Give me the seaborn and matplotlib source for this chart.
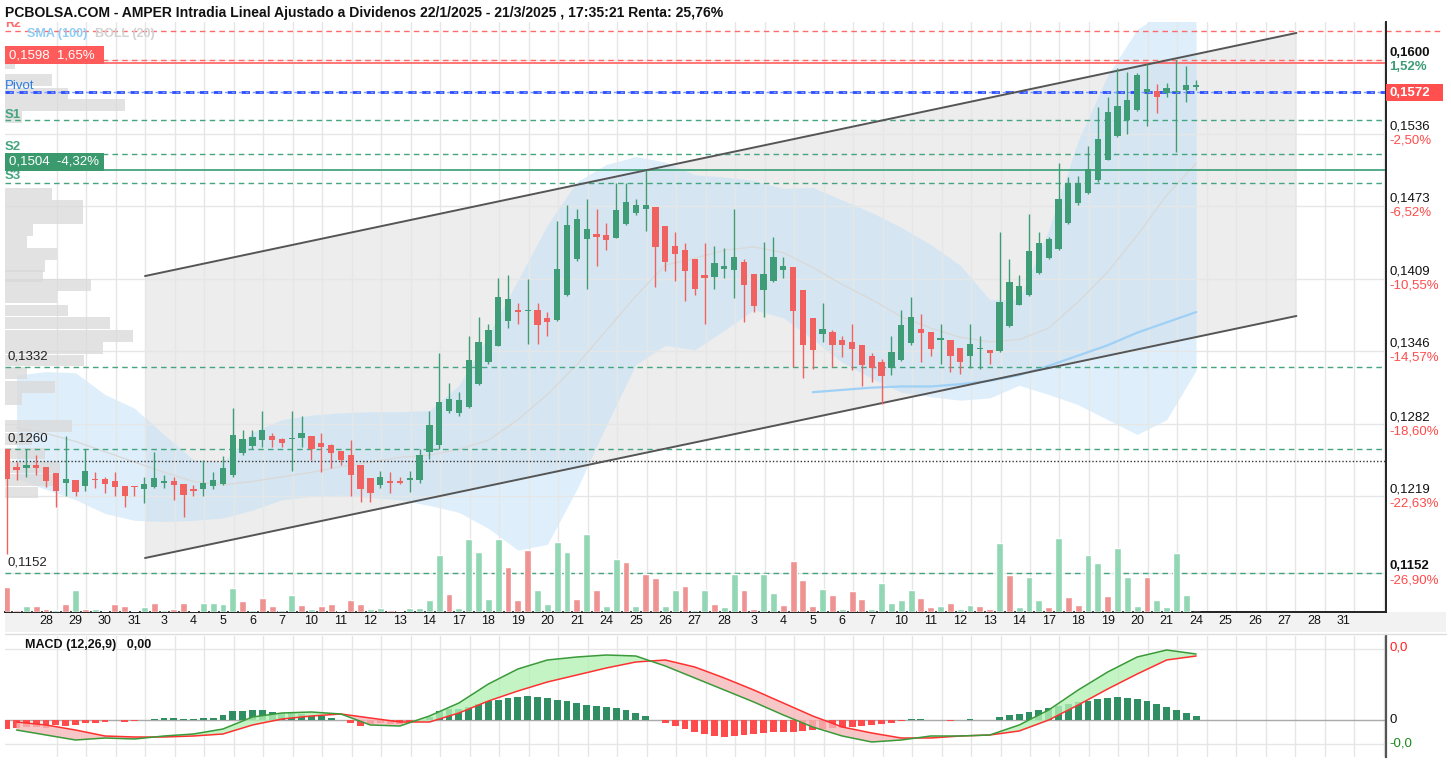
import matplotlib
matplotlib.use("Agg")
import numpy as np
import pandas as pd
import matplotlib.pyplot as plt
import matplotlib.transforms as mtransforms
from matplotlib.patches import Rectangle
import seaborn as sns

# ================= datos (AMPER, barras intradía) =================
opens = [0.1260, 0.1245, 0.1244, 0.1246, 0.1245, 0.1239, 0.1231, 0.1233, 0.1228, 0.1234,
         0.1234, 0.1232, 0.1228, 0.1228, 0.1225, 0.1227, 0.1231, 0.1232, 0.1230, 0.1225,
         0.1225, 0.1228, 0.1230, 0.1238, 0.1257, 0.1263, 0.1268, 0.1272, 0.1269, 0.1269,
         0.1270, 0.1272, 0.1266, 0.1264, 0.1259, 0.1255, 0.1246, 0.1235, 0.1229, 0.1232,
         0.1232, 0.1233, 0.1233, 0.1258, 0.1264, 0.1294, 0.1292, 0.1297, 0.1317, 0.1336,
         0.1350, 0.1372, 0.1382, 0.1381, 0.1382, 0.1375, 0.1373, 0.1395, 0.1426, 0.1444,
         0.1448, 0.1447, 0.1445, 0.1457, 0.1467, 0.1470, 0.1472, 0.1455, 0.1438, 0.1434,
         0.1426, 0.1412, 0.1411, 0.1418, 0.1417, 0.1424, 0.1413, 0.1399, 0.1407, 0.1417,
         0.1419, 0.1399, 0.1375, 0.1361, 0.1363, 0.1356, 0.1354, 0.1351, 0.1342, 0.1336,
         0.1331, 0.1338, 0.1353, 0.1365, 0.1363, 0.1356, 0.1356, 0.1349, 0.1342, 0.1348,
         0.1347, 0.1346, 0.1368, 0.1386, 0.1395, 0.1414, 0.1427, 0.1435, 0.1458, 0.1475,
         0.1484, 0.1495, 0.1513, 0.1534, 0.1548, 0.1557, 0.1572, 0.1573, 0.1571, 0.1572,
         0.1574, 0.1577]
highs = [0.1260, 0.1249, 0.1260, 0.1255, 0.1245, 0.1239, 0.1272, 0.1233, 0.1260, 0.1240,
         0.1236, 0.1240, 0.1228, 0.1228, 0.1236, 0.1258, 0.1238, 0.1236, 0.1230, 0.1229,
         0.1251, 0.1240, 0.1254, 0.1296, 0.1277, 0.1277, 0.1294, 0.1274, 0.1270, 0.1294,
         0.1289, 0.1272, 0.1274, 0.1265, 0.1259, 0.1268, 0.1246, 0.1235, 0.1241, 0.1240,
         0.1236, 0.1241, 0.1260, 0.1294, 0.1344, 0.1318, 0.1310, 0.1359, 0.1376, 0.1370,
         0.1410, 0.1412, 0.1388, 0.1409, 0.1388, 0.1380, 0.1460, 0.1474, 0.1470, 0.1479,
         0.1470, 0.1458, 0.1493, 0.1493, 0.1479, 0.1504, 0.1472, 0.1455, 0.1450, 0.1440,
         0.1426, 0.1440, 0.1438, 0.1436, 0.1470, 0.1426, 0.1413, 0.1441, 0.1446, 0.1428,
         0.1419, 0.1399, 0.1375, 0.1388, 0.1364, 0.1359, 0.1370, 0.1351, 0.1344, 0.1339,
         0.1359, 0.1382, 0.1393, 0.1378, 0.1363, 0.1370, 0.1356, 0.1349, 0.1370, 0.1359,
         0.1347, 0.1450, 0.1426, 0.1412, 0.1466, 0.1450, 0.1446, 0.1510, 0.1498, 0.1499,
         0.1525, 0.1559, 0.1568, 0.1593, 0.1590, 0.1589, 0.1597, 0.1579, 0.1580, 0.1600,
         0.1595, 0.1583]
lows = [0.1169, 0.1233, 0.1236, 0.1238, 0.1227, 0.1210, 0.1219, 0.1219, 0.1224, 0.1226,
        0.1222, 0.1219, 0.1210, 0.1219, 0.1213, 0.1226, 0.1226, 0.1216, 0.1201, 0.1219,
        0.1219, 0.1225, 0.1229, 0.1236, 0.1255, 0.1260, 0.1262, 0.1262, 0.1262, 0.1241,
        0.1262, 0.1251, 0.1240, 0.1244, 0.1246, 0.1219, 0.1214, 0.1214, 0.1226, 0.1222,
        0.1230, 0.1223, 0.1231, 0.1252, 0.1260, 0.1292, 0.1289, 0.1296, 0.1316, 0.1335,
        0.1350, 0.1366, 0.1370, 0.1352, 0.1352, 0.1359, 0.1372, 0.1394, 0.1425, 0.1400,
        0.1420, 0.1434, 0.1445, 0.1456, 0.1465, 0.1451, 0.1402, 0.1416, 0.1407, 0.1390,
        0.1395, 0.1370, 0.1400, 0.1410, 0.1392, 0.1371, 0.1380, 0.1376, 0.1406, 0.1410,
        0.1332, 0.1322, 0.1330, 0.1354, 0.1332, 0.1341, 0.1329, 0.1315, 0.1319, 0.1300,
        0.1325, 0.1337, 0.1351, 0.1336, 0.1342, 0.1335, 0.1328, 0.1326, 0.1331, 0.1330,
        0.1335, 0.1345, 0.1367, 0.1386, 0.1394, 0.1413, 0.1426, 0.1434, 0.1457, 0.1474,
        0.1483, 0.1494, 0.1513, 0.1533, 0.1536, 0.1556, 0.1543, 0.1554, 0.1568, 0.1520,
        0.1564, 0.1574]
closes = [0.1234, 0.1242, 0.1246, 0.1244, 0.1232, 0.1224, 0.1234, 0.1223, 0.1241, 0.1233,
          0.1230, 0.1227, 0.1219, 0.1227, 0.1230, 0.1235, 0.1232, 0.1229, 0.1220, 0.1224,
          0.1231, 0.1233, 0.1244, 0.1273, 0.1269, 0.1271, 0.1277, 0.1268, 0.1266, 0.1270,
          0.1274, 0.1260, 0.1262, 0.1257, 0.1251, 0.1238, 0.1225, 0.1222, 0.1236, 0.1231,
          0.1231, 0.1235, 0.1255, 0.1281, 0.1301, 0.1304, 0.1303, 0.1338, 0.1354, 0.1364,
          0.1393, 0.1391, 0.1380, 0.1382, 0.1369, 0.1371, 0.1418, 0.1456, 0.1461, 0.1453,
          0.1446, 0.1443, 0.1469, 0.1476, 0.1474, 0.1474, 0.1437, 0.1424, 0.1431, 0.1416,
          0.1400, 0.1410, 0.1423, 0.1420, 0.1428, 0.1404, 0.1385, 0.1413, 0.1428, 0.1420,
          0.1381, 0.1351, 0.1347, 0.1365, 0.1351, 0.1351, 0.1348, 0.1334, 0.1331, 0.1324,
          0.1345, 0.1369, 0.1376, 0.1362, 0.1348, 0.1357, 0.1342, 0.1336, 0.1352, 0.1349,
          0.1344, 0.1389, 0.1406, 0.1403, 0.1433, 0.1440, 0.1444, 0.1479, 0.1493, 0.1493,
          0.1505, 0.1531, 0.1555, 0.1560, 0.1565, 0.1587, 0.1575, 0.1568, 0.1576, 0.1573,
          0.1578, 0.1578]
# volumen por barra (millones de títulos) y su color (1 = verde, 0 = rojo)
volumes = [2.50, 0.23, 0.60, 0.60, 0.33, 0.23, 0.83, 2.23, 0.33, 0.33,
           0.10, 0.83, 0.60, 0.10, 0.50, 0.93, 0.23, 0.33, 0.93, 0.10,
           0.93, 0.93, 0.83, 2.43, 1.07, 0.23, 1.43, 0.57, 0.23, 1.73,
           0.67, 0.33, 0.57, 0.83, 0.10, 1.17, 0.83, 0.33, 0.43, 0.23,
           0.10, 0.43, 0.43, 1.17, 5.70, 1.83, 0.43, 7.30, 6.00, 1.33,
           7.30, 4.50, 1.17, 6.20, 2.17, 0.77, 7.00, 6.00, 1.33, 7.80,
           2.17, 0.57, 5.30, 5.00, 0.57, 3.80, 3.40, 0.57, 2.17, 2.57,
           0.23, 2.17, 0.83, 0.50, 3.80, 2.17, 0.33, 3.80, 1.90, 0.67,
           5.10, 3.20, 0.57, 2.30, 1.70, 0.33, 2.10, 1.30, 0.33, 2.90,
           0.93, 1.17, 2.17, 1.43, 0.50, 0.57, 0.93, 0.33, 0.67, 0.57,
           0.33, 6.90, 3.70, 0.50, 3.50, 1.17, 0.50, 7.40, 1.50, 0.73,
           5.70, 4.90, 1.60, 6.40, 3.50, 0.57, 3.50, 1.17, 0.50, 5.90,
           1.73, 0.05]
volume_up = [0, 0, 1, 0, 0, 1, 0, 1, 0, 1,
             1, 0, 0, 0, 1, 0, 1, 0, 0, 0,
             1, 1, 1, 1, 0, 1, 0, 0, 1, 1,
             0, 1, 0, 0, 0, 0, 0, 1, 1, 0,
             1, 1, 1, 1, 1, 0, 1, 1, 1, 1,
             1, 0, 0, 0, 1, 1, 1, 1, 0, 1,
             0, 1, 1, 0, 1, 0, 0, 1, 1, 0,
             1, 1, 0, 1, 1, 0, 0, 1, 1, 0,
             0, 0, 0, 1, 0, 1, 0, 0, 1, 1,
             1, 1, 1, 0, 0, 1, 0, 1, 1, 0,
             0, 1, 0, 1, 1, 1, 0, 1, 0, 0,
             1, 1, 0, 1, 1, 1, 0, 1, 1, 1,
             1, 1]

day_labels = ["28", "29", "30", "31", "3", "4", "5", "6", "7", "10", "11", "12", "13", "14",
              "17", "18", "19", "20", "21", "24", "25", "26", "27", "28", "3", "4", "5", "6",
              "7", "10", "11", "12", "13", "14", "17", "18", "19", "20", "21", "24", "25",
              "26", "27", "28", "31"]

# Bollinger (20) y SMA (100), leídas cada 3 barras
bb_idx = list(range(1, 122, 3))
bb_upper = [0.1325, 0.1328, 0.1327, 0.1308, 0.1296, 0.1273, 0.1251, 0.1249, 0.1275, 0.1286,
            0.1290, 0.1292, 0.1293, 0.1293, 0.1294, 0.1316, 0.1360, 0.1408, 0.1456, 0.1494,
            0.1509, 0.1516, 0.1511, 0.1500, 0.1498, 0.1495, 0.1488, 0.1489, 0.1478, 0.1467,
            0.1454, 0.1439, 0.1421, 0.1391, 0.1391, 0.1452, 0.1530, 0.1587, 0.1627, 0.1644,
            0.1653]
bb_mid = [0.1279, 0.1274, 0.1267, 0.1258, 0.1249, 0.1240, 0.1232, 0.1229, 0.1232, 0.1236,
          0.1240, 0.1245, 0.1249, 0.1253, 0.1255, 0.1260, 0.1268, 0.1286, 0.1308, 0.1334,
          0.1364, 0.1394, 0.1421, 0.1427, 0.1434, 0.1437, 0.1432, 0.1419, 0.1404, 0.1391,
          0.1376, 0.1366, 0.1358, 0.1354, 0.1356, 0.1366, 0.1389, 0.1415, 0.1447, 0.1482,
          0.1510]
bb_lower = [0.1235, 0.1225, 0.1216, 0.1204, 0.1198, 0.1197, 0.1198, 0.1200, 0.1207, 0.1216,
            0.1219, 0.1220, 0.1218, 0.1216, 0.1211, 0.1205, 0.1191, 0.1172, 0.1177, 0.1225,
            0.1281, 0.1334, 0.1351, 0.1347, 0.1364, 0.1382, 0.1375, 0.1356, 0.1336, 0.1322,
            0.1310, 0.1306, 0.1303, 0.1305, 0.1316, 0.1308, 0.1299, 0.1286, 0.1273, 0.1286,
            0.1329]
sma_idx = list(range(82, 122, 3))
sma100 = [0.1310, 0.1312, 0.1314, 0.1315, 0.1315, 0.1317, 0.1320, 0.1325, 0.1333, 0.1342,
          0.1351, 0.1362, 0.1371, 0.1380]

# canal de regresión (extremos)
channel_idx = [14.07, 131.2]
channel_upper = [0.14115, 0.16239]
channel_lower = [0.11651, 0.13766]

# perfil de volumen por precio
profile_price = [0.15971, 0.15828, 0.15710, 0.15610, 0.15505, 0.14832, 0.14727, 0.14622,
                 0.14517, 0.14412, 0.14308, 0.14203, 0.14115, 0.14037, 0.13931, 0.13814,
                 0.13705, 0.13591, 0.13486, 0.13377, 0.13268, 0.13145, 0.13040, 0.12805,
                 0.12691, 0.12564, 0.12442, 0.12333, 0.12224]
profile_vol = [10, 47, 63, 120, 17, 47, 78, 78, 28, 22, 52, 40, 38, 86, 52, 63, 105, 128,
               98, 79, 22, 50, 17, 67, 27, 40, 55, 50, 33]

# niveles
r2, r1, pivot, s1, s2, s3 = 0.1626, 0.1600, 0.1572, 0.1548, 0.1518, 0.1493
mark_high, mark_low = 0.1598, 0.1504
support_levels = [0.1332, 0.1260, 0.1152]
ref_close = 0.1250

price_ticks = [0.1600, 0.1536, 0.1473, 0.1409, 0.1346, 0.1282, 0.1219, 0.1152]
price_tick_labels = ["0,1600", "0,1536", "0,1473", "0,1409", "0,1346", "0,1282", "0,1219", "0,1152"]
pct_labels = ["1,52%", "-2,50%", "-6,52%", "-10,55%", "-14,57%", "-18,60%", "-22,63%", "-26,90%"]

# MACD (12,26,9) en unidades de 1e-4
macd_line = [-5, -7.5, -10, -9, -9.5, -8, -7, -4.5, 1.5, 3.5, 4, 3, -2.5, -3, 2, 8.5, 18,
             25.5, 30, 31.5, 32.5, 32, 27, 21, 15, 9, 2.5, -3.5, -8, -11, -10, -8, -8, -7.5,
             -2.5, 5, 15, 24, 31.5, 35, 33]
macd_signal = [-1, -2.5, -5, -8, -8.5, -8.5, -8, -7, -2.5, 0.5, 2, 3, 1, -1, -1, 3.5, 9.5,
               14.5, 19, 22.5, 26, 29, 30, 26.5, 21, 15, 8.5, 2, -3.5, -6.5, -9, -9, -8, -7.5,
               -5.5, 0, 7.5, 15.5, 23, 30, 32]
macd_hist = [-4.5, -4, -3.5, -3.5, -4, -2.5, -3, -2.5, -1.5, -1.5, -1, 0, -1, -0.5, 0, 0.5,
             1, 1, 0.5, 0.5, 1, 1, 2.5, 4.5, 4.5, 5, 5, 4, 3.5, 4, 3, 2, 2, 1, 0, -1.5, -3,
             -2, -1.5, -2, -2, -1, 0, 1.5, 4.5, 5.5, 5.5, 6.5, 8, 9.5, 10, 11, 11.5, 12, 11.5,
             11, 10, 9.5, 8.5, 7.5, 7, 6.5, 6, 5, 3.5, 2, 0, -1.5, -3, -4.5, -6, -7, -8, -8.5,
             -8, -7.5, -7, -6.5, -6, -6, -6, -5.5, -5, -4.5, -4, -4, -3.5, -3, -2.5, -2, -1.5,
             -0.5, 0.5, 0.5, 0, 0, -0.5, 0, 0.5, 0, 0, 1.5, 2.5, 3, 4, 5, 6, 7, 8, 9, 9.5,
             10.5, 11, 11.5, 11, 10.5, 9.5, 8, 6.5, 5, 3.5, 2]

# ================= estilo =================
W, H = 1451, 763
GREEN = "#3e9d76"
RED = "#f0625f"
LEVEL_GREEN = "#45a57f"
LEVEL_RED = "#ff6b6b"

sns.set_theme(style="white")
plt.rcParams['font.family'] = ['Liberation Sans', 'DejaVu Sans']


def box(x0, y0, x1, y1):
    return [x0 / W, 1 - y1 / H, (x1 - x0) / W, (y1 - y0) / H]


def px2x(px):
    return (px - 6.7) / 9.83


def py2p(py):
    return 0.16527 - 0.00008738 * py


n = len(closes)
idx = np.arange(n)
o = np.array(opens); c = np.array(closes); h = np.array(highs); l = np.array(lows)
up = c >= o
col = np.where(up, GREEN, RED)
df = pd.DataFrame({"idx": idx, "vol": volumes,
                   "dir": np.where(np.array(volume_up) == 1, "up", "down")})

fig = plt.figure(figsize=(W / 100, H / 100), dpi=100)
fig.patch.set_facecolor("white")

ax = fig.add_axes(box(5, 22, 1386, 612))
ax.set_facecolor("white")
XL = (px2x(5), px2x(1386))
YL = (py2p(612), py2p(22))

# rejilla
grid_x = np.arange(5.1, 141, 3)
for gx in grid_x:
    ax.axvline(gx, color="#e6e6e6", lw=1, zorder=1)
for pt in price_ticks:
    ax.axhline(pt, color="#e6e6e6", lw=1, zorder=1)

# canal
ax.fill_between(channel_idx, channel_lower, channel_upper, color="#ededed", lw=0, zorder=0.5)
sns.lineplot(x=channel_idx, y=channel_upper, color="#555555", lw=1.4, ax=ax, zorder=2.5)
sns.lineplot(x=channel_idx, y=channel_lower, color="#555555", lw=1.4, ax=ax, zorder=2.5)

# Bollinger
ax.fill_between(bb_idx, bb_lower, bb_upper, color="#bfe0f8", alpha=0.5, lw=0, zorder=0.8)
sns.lineplot(x=bb_idx, y=bb_mid, color="#d9d9d9", lw=1, ax=ax, zorder=1.2)
sns.lineplot(x=sma_idx, y=sma100, color="#9fd0f5", lw=1.6, ax=ax, zorder=1.3)

# perfil de volumen
ax.barh(profile_price, np.array(profile_vol) / 9.83, left=XL[0], height=0.00102,
        color="#d9d9d9", alpha=0.75, lw=0, zorder=1.5)

# niveles
ax.axhline(r2, xmax=1.04, color=LEVEL_RED, lw=1, ls=(0, (4, 3)), clip_on=False, zorder=2)
ax.axhline(r1, color=LEVEL_RED, lw=1, ls=(0, (4, 3)), zorder=2)
ax.axhline(mark_high, color=LEVEL_RED, lw=1.3, zorder=2)
ax.axhline(pivot, color="#2b4cff", lw=2, ls=(0, (3, 2)), zorder=2)
ax.axhline(pivot, color="#7d9bff", lw=1, ls=(2, (2, 3)), zorder=2)
for lv in [s1, s2, s3] + support_levels:
    ax.axhline(lv, color=LEVEL_GREEN, lw=1, ls=(0, (4, 3)), zorder=2)
ax.axhline(mark_low, color=LEVEL_GREEN, lw=1.3, zorder=2)
ax.axhline(ref_close, color="#333333", lw=1, ls=(0, (1, 1.5)), zorder=2)

# velas
ax.vlines(idx, l, h, colors=col, lw=1, zorder=3)
body = np.maximum(np.abs(c - o), 0.00006)
ax.bar(idx, body, bottom=np.minimum(o, c), width=0.64, color=col, lw=0, zorder=3.2)

ax.set_xlim(*XL)
ax.set_ylim(*YL)
ax.set_xticks([]); ax.set_yticks([])
ax.set_xlabel(""); ax.set_ylabel("")
for s in ["top", "left"]:
    ax.spines[s].set_visible(False)
ax.spines["right"].set_color("#222222"); ax.spines["right"].set_linewidth(1.4)
ax.spines["bottom"].set_color("#222222"); ax.spines["bottom"].set_linewidth(1.4)

# volumen
axv = ax.twinx()
sns.barplot(data=df, x="idx", y="vol", hue="dir", palette={"up": "#86e3b4", "down": "#ff8282"},
            native_scale=True, dodge=False, width=0.7, legend=False, errorbar=None, ax=axv,
            zorder=2)
axv.set_ylim(0, 59)
axv.set_xlim(*XL)
axv.set_yticks([]); axv.set_xticks([])
axv.set_xlabel(""); axv.set_ylabel("")
for s in axv.spines.values():
    s.set_visible(False)

# textos del panel principal
ax.text(px2x(5), py2p(24), "R2", color=LEVEL_RED, fontsize=9, fontweight="bold", va="center",
        clip_on=True, zorder=5)
ax.text(px2x(27), py2p(34), "SMA (100)", color="#8fcdf5", fontsize=9, fontweight="bold",
        va="center", zorder=5)
ax.text(px2x(95), py2p(34), "BOLL (20)", color="#d2d2d2", fontsize=9, fontweight="bold",
        va="center", zorder=5)
ax.text(px2x(5), py2p(86), "Pivot", color="#2c7be5", fontsize=9.5, va="center", zorder=5)
for name, ypx in [("S1", 115), ("S2", 147), ("S3", 176)]:
    ax.text(px2x(5), py2p(ypx), name, color=LEVEL_GREEN, fontsize=9.5, fontweight="bold",
            va="center", zorder=5)
for lv in support_levels:
    ax.text(px2x(7), lv + 0.0004, f"{lv:.4f}".replace(".", ","), color="#222222", fontsize=9.5,
            va="bottom", zorder=5)

fig.add_artist(Rectangle((5 / W, 1 - 64 / H), 99 / W, 18 / H, color="#ff5b5b", lw=0, zorder=5))
fig.text(9 / W, 1 - 55 / H, "0,1598  1,65%", color="white", fontsize=9.5, va="center", zorder=6)
fig.add_artist(Rectangle((5 / W, 1 - 171 / H), 99 / W, 18 / H, color="#3a9a6e", lw=0, zorder=5))
fig.text(9 / W, 1 - 162 / H, "0,1504  -4,32%", color="white", fontsize=9.5, va="center", zorder=6)

# eje de precios a la derecha
for pt, lab, pct in zip(price_ticks, price_tick_labels, pct_labels):
    ypx = (0.16527 - pt) / 0.00008738
    bold = "bold" if lab in ("0,1600", "0,1152") else "normal"
    fig.text(1389 / W, 1 - (ypx - 7) / H, lab, color="#111111", fontsize=9.5, va="center",
             fontweight=bold)
    fig.text(1389 / W, 1 - (ypx + 7) / H, pct, color=GREEN if pct[0] != "-" else "#ff4b4b",
             fontsize=9.5, va="center", fontweight="bold" if pct[0] != "-" else "normal")
fig.add_artist(Rectangle((1386 / W, 1 - 101 / H), 57 / W, 17 / H, color="#ff4f4f", lw=0, zorder=5))
fig.text(1390 / W, 1 - 92.5 / H, "0,1572", color="white", fontsize=9.5, fontweight="bold",
         va="center", zorder=6)

# franja de fechas
fig.add_artist(Rectangle((5 / W, 1 - 632 / H), 1441 / W, 20 / H, color="#f2f2f2", lw=0, zorder=0))
trans = mtransforms.blended_transform_factory(ax.transData, ax.transAxes)
for k, lab in enumerate(day_labels):
    ax.text(4 + 3 * k, (612 - 621) / 590, lab, transform=trans, ha="center", va="center",
            fontsize=9, color="#111111", clip_on=False)

# título
fig.text(5 / W, 1 - 13 / H,
         "PCBOLSA.COM - AMPER Intradia Lineal Ajustado a Dividenos 22/1/2025 - 21/3/2025 , "
         "17:35:21 Renta: 25,76%", fontsize=10.1, fontweight="bold", va="center", color="#111111")

# ================= MACD =================
axm = fig.add_axes(box(5, 636, 1386, 757))
axm.set_facecolor("white")
for gx in grid_x:
    axm.axvline(gx, color="#e6e6e6", lw=1, zorder=0.5)
for gy in [35.5, -12]:
    axm.axhline(gy, color="#e6e6e6", lw=1, zorder=0.5)
axm.axhline(0, color="#aaaaaa", lw=1, zorder=0.6)

hist = np.array(macd_hist)
axm.bar(idx, hist, width=0.7, color=np.where(hist >= 0, "#2f8f63", "#ff4b4b"), lw=0, zorder=1)
mx = np.array(bb_idx, dtype=float)
ml = np.array(macd_line, dtype=float)
ms = np.array(macd_signal, dtype=float)
axm.fill_between(mx, ml, ms, where=ml >= ms, interpolate=True, color="#b6f0b6", alpha=0.8,
                 lw=0, zorder=1.5)
axm.fill_between(mx, ml, ms, where=ml < ms, interpolate=True, color="#f6b9b9", alpha=0.8,
                 lw=0, zorder=1.5)
sns.lineplot(x=mx, y=ms, color="#ff3030", lw=1.1, ax=axm, zorder=2)
sns.lineplot(x=mx, y=ml, color="#3a9a3a", lw=1.1, ax=axm, zorder=2.1)
axm.set_xlim(*XL)
axm.set_ylim(-18.5, 42)
axm.set_xticks([]); axm.set_yticks([])
axm.set_xlabel(""); axm.set_ylabel("")
for s in ["top", "left", "bottom"]:
    axm.spines[s].set_visible(False)
axm.spines["right"].set_color("#555555"); axm.spines["right"].set_linewidth(1.6)

fig.text(25 / W, 1 - 645 / H, "MACD (12,26,9)   0,00", fontsize=9, fontweight="bold",
         va="center", color="#111111")
fig.text(1389 / W, 1 - 648 / H, "0,0", color="#ff2020", fontsize=9.5, va="center")
fig.text(1389 / W, 1 - 720 / H, "0", color="#111111", fontsize=9.5, va="center")
fig.text(1389 / W, 1 - 743 / H, "-0,0", color="#1a8a1a", fontsize=9.5, va="center")
fig.add_artist(plt.Line2D([5 / W, 1446 / W], [1 - 634 / H, 1 - 634 / H], color="#dddddd", lw=1))

fig.savefig("out.png", dpi=100)
